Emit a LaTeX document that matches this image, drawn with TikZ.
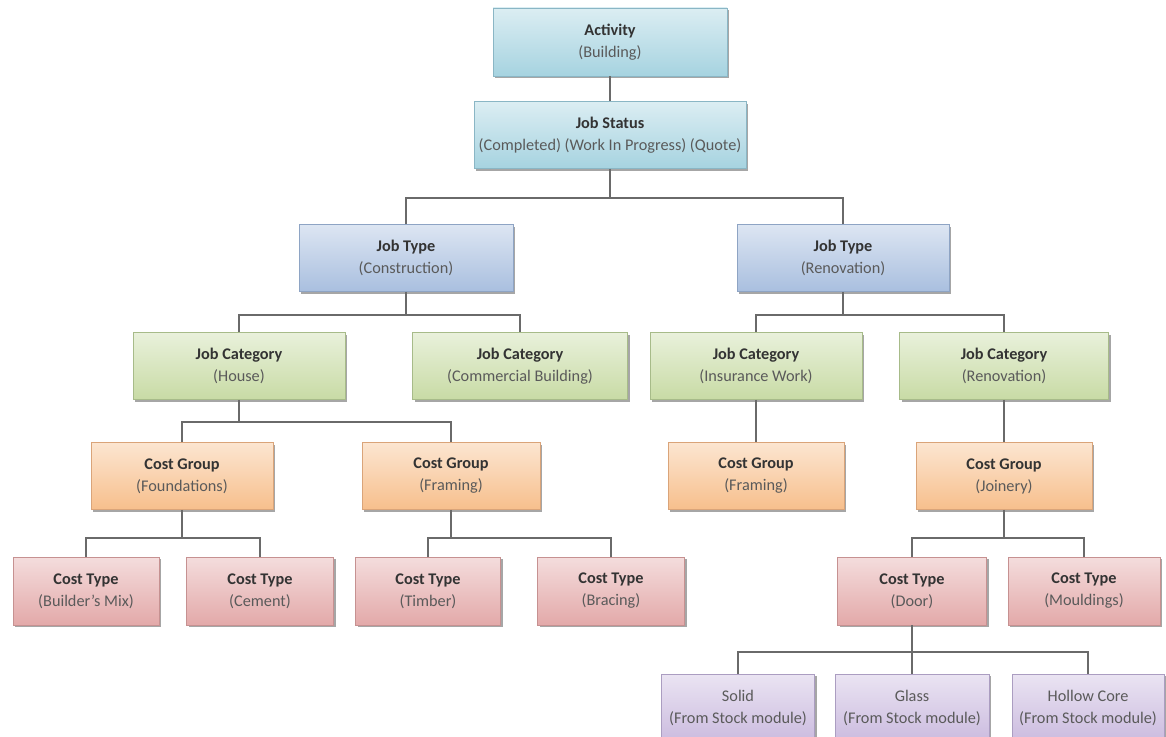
\documentclass[tikz,border=0pt]{standalone}
\usepackage{fontspec}
\setmainfont{Carlito}
\usetikzlibrary{shadows}
\definecolor{cBlue}{HTML}{A6D3E0}
\definecolor{bBlue}{HTML}{8AB6C5}
\definecolor{cJob}{HTML}{A9BFDF}
\definecolor{bJob}{HTML}{8EA4C4}
\definecolor{cGreen}{HTML}{C8DBA5}
\definecolor{bGreen}{HTML}{A7BB89}
\definecolor{cOrange}{HTML}{F7BF8C}
\definecolor{bOrange}{HTML}{DAA479}
\definecolor{cPink}{HTML}{E3A9A9}
\definecolor{bPink}{HTML}{C69191}
\definecolor{cPurple}{HTML}{CBBBDF}
\definecolor{bPurple}{HTML}{AB9DC1}
\definecolor{tTitle}{HTML}{333333}
\definecolor{tSub}{HTML}{5A5A5A}
\definecolor{lineC}{HTML}{6A6A6A}
\tikzset{
  box/.style={rectangle, inner sep=0pt, align=center, line width=0.5pt,
    font=\fontsize{12.2}{16.5}\selectfont, text=tSub,
    drop shadow={shadow xshift=1.6pt, shadow yshift=-1.8pt, fill=black, opacity=0.35}},
  colbox/.style 2 args={box, draw=#2, top color=#1!40!white, middle color=#1!22!white, bottom color=#1},
  blueb/.style={colbox={cBlue}{bBlue}},
  jobb/.style={colbox={cJob}{bJob}},
  greenb/.style={colbox={cGreen}{bGreen}},
  orangeb/.style={colbox={cOrange}{bOrange}},
  pinkb/.style={colbox={cPink}{bPink}},
  purpleb/.style={colbox={cPurple}{bPurple}},
  conn/.style={draw=lineC, line width=1.1pt}
}
\newcommand{\bx}[8]{\node[#6, minimum width={#4*0.75pt}, minimum height={#5*0.75pt}] (#1) at (#2,#3) {\textcolor{tTitle}{\textbf{#7}}\\#8};}
\begin{document}
\begin{tikzpicture}[x=0.75pt, y=-0.75pt]
\useasboundingbox (0,0) rectangle (1166,737);
\fill[white] (0,0) rectangle (1166,737);
\clip (0,0) rectangle (1166,737);
% boxes
\bx{act}{610}{42}{234}{68}{blueb}{Activity}{(Building)}
\bx{stat}{610}{135}{272}{67}{blueb}{Job Status}{(Completed) (Work In Progress) (Quote)}
\bx{jt1}{406}{258}{214}{67}{jobb}{Job Type}{(Construction)}
\bx{jt2}{843}{258}{212}{67}{jobb}{Job Type}{(Renovation)}
\bx{jc1}{239}{366}{212}{67}{greenb}{Job Category}{(House)}
\bx{jc2}{520}{366}{215}{67}{greenb}{Job Category}{(Commercial Building)}
\bx{jc3}{756}{366}{212}{67}{greenb}{Job Category}{(Insurance Work)}
\bx{jc4}{1004}{366}{209}{67}{greenb}{Job Category}{(Renovation)}
\bx{cg1}{182}{476}{182}{67}{orangeb}{Cost Group}{(Foundations)}
\bx{cg2}{451}{476}{178}{67}{orangeb}{Cost Group}{(Framing)}
\bx{cg3}{756}{476}{176}{67}{orangeb}{Cost Group}{(Framing)}
\bx{cg4}{1004}{476}{176}{67}{orangeb}{Cost Group}{(Joinery)}
\bx{ct1}{86}{591}{146}{68}{pinkb}{Cost Type}{(Builder's Mix)}
\bx{ct2}{260}{591}{147}{68}{pinkb}{Cost Type}{(Cement)}
\bx{ct3}{428}{591}{145}{68}{pinkb}{Cost Type}{(Timber)}
\bx{ct4}{611}{591}{147}{68}{pinkb}{Cost Type}{(Bracing)}
\bx{ct5}{912}{591}{149}{68}{pinkb}{Cost Type}{(Door)}
\bx{ct6}{1084}{591}{152}{68}{pinkb}{Cost Type}{(Mouldings)}
\bx{s1}{738}{708}{153}{68}{purpleb}{\mdseries\color{tSub}Solid}{(From Stock module)}
\bx{s2}{912}{708}{154}{68}{purpleb}{\mdseries\color{tSub}Glass}{(From Stock module)}
\bx{s3}{1088}{708}{152}{68}{purpleb}{\mdseries\color{tSub}Hollow Core}{(From Stock module)}
% bar coordinates
\coordinate (b1) at (610,198);
\coordinate (b2) at (406,315);
\coordinate (b3) at (843,315);
\coordinate (b4) at (239,422);
\coordinate (b5) at (182,538);
\coordinate (b6) at (451,538);
\coordinate (b7) at (1004,538);
\coordinate (b8) at (912,652);
% connectors
\draw[conn] (act) -- (stat);
\draw[conn] (stat.south) -- (b1);
\draw[conn] (jt1.north) |- (b1) -| (jt2.north);
\draw[conn] (jt1.south) -- (b2);
\draw[conn] (jc1.north) |- (b2) -| (jc2.north);
\draw[conn] (jt2.south) -- (b3);
\draw[conn] (jc3.north) |- (b3) -| (jc4.north);
\draw[conn] (jc1.south) -- (b4);
\draw[conn] (cg1.north) |- (b4) -| (cg2.north);
\draw[conn] (jc3) -- (cg3);
\draw[conn] (jc4) -- (cg4);
\draw[conn] (cg1.south) -- (b5);
\draw[conn] (ct1.north) |- (b5) -| (ct2.north);
\draw[conn] (cg2.south) -- (b6);
\draw[conn] (ct3.north) |- (b6) -| (ct4.north);
\draw[conn] (cg4.south) -- (b7);
\draw[conn] (ct5.north) |- (b7) -| (ct6.north);
\draw[conn] (ct5.south) -- (s2.north);
\draw[conn] (s1.north) |- (b8) -| (s3.north);
\end{tikzpicture}
\end{document}
